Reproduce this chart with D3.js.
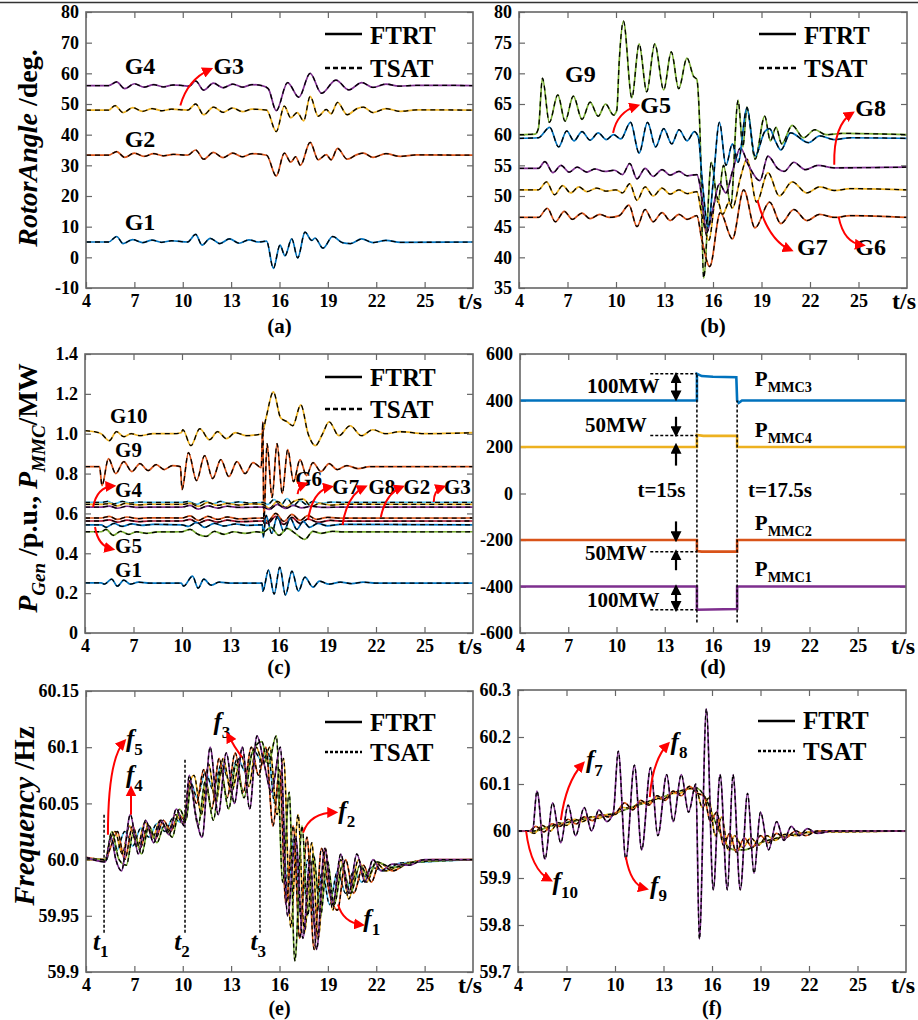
<!DOCTYPE html>
<html>
<head>
<meta charset="utf-8">
<title>FTRT vs TSAT</title>
<script src="https://cdnjs.cloudflare.com/ajax/libs/d3/7.8.5/d3.min.js"></script>
<style>
body { margin: 0; background: #fff; }
svg text { font-family: "Liberation Serif", "Times New Roman", serif; font-weight: bold; fill: #000; }
</style>
</head>
<body>
<script>
// ---- data: [time (s), value] ----
var xTicks = [4, 7, 10, 13, 16, 19, 22, 25];

// (a) rotor angle, deg
var aTicks = [-10, 0, 10, 20, 30, 40, 50, 60, 70, 80];
var a_G4 = [[4,56],[5.4,56],[5.9,57.2],[6.4,55],[7,56.6],[7.6,55.5],[8.2,56.3],[8.8,55.6],[9.4,56.2],[10,56],[10.4,55.8],[10.8,57.5],[11.3,54.5],[11.9,56.8],[12.5,55.3],[13.1,56.5],[13.7,55.5],[14.3,56.3],[14.9,56],[15.3,55],[15.8,47.8],[16.5,57],[17.2,52.2],[17.9,60],[18.6,53.5],[19.5,57.8],[20.3,54.6],[21.1,57],[21.8,55.4],[22.6,56.5],[23.4,55.8],[24.5,56.1],[28,56]];
var a_G3 = [[4,48],[5.4,48],[5.8,49.5],[6.3,47.2],[6.9,48.8],[7.5,47.6],[8.1,48.5],[8.7,47.8],[9.3,48.3],[10.3,48],[10.8,50],[11.3,46.5],[11.9,49],[12.5,47.3],[13.1,48.7],[13.7,47.5],[14.3,48.3],[15.2,48],[15.8,41],[16.3,49.3],[16.7,45.5],[17.1,47.2],[17.5,44.5],[17.9,52.5],[18.4,46],[18.9,48.2],[19.2,46.8],[19.6,50.5],[20.2,46.5],[20.8,48.5],[21.2,49],[21.8,47.2],[22.6,48.5],[23.5,47.6],[24.5,48.1],[28,48]];
var a_G2 = [[4,33.3],[5.4,33.3],[5.9,34.5],[6.4,32.6],[7,34],[7.6,32.9],[8.2,33.8],[8.8,33.1],[9.4,33.6],[10.3,33.3],[10.8,35],[11.3,32],[11.9,34.2],[12.5,32.5],[13.1,34],[13.7,32.8],[14.3,33.8],[15.2,33.3],[15.8,26.5],[16.3,34],[16.7,31],[17,32.8],[17.3,30],[17.9,37.5],[18.4,31.8],[18.9,33.5],[19.2,31.8],[19.6,35.5],[20.2,32],[20.8,33.5],[21.2,34],[21.8,32.6],[22.6,33.8],[23.5,32.9],[24.5,33.4],[28,33.3]];
var a_G1 = [[4,5],[5.4,5],[5.9,6.8],[6.3,4.5],[6.9,5.8],[7.5,4.8],[8.1,5.6],[8.7,4.9],[9.3,5.4],[10.3,5],[10.8,7.5],[11.2,4],[11.7,6.2],[12.3,4.5],[12.9,6],[13.5,4.6],[14.1,5.7],[14.7,5],[15.2,5.3],[15.62,-3.6],[16.03,4],[16.34,0.5],[16.76,6],[17.13,-0.2],[17.58,8.2],[18,5.5],[18.2,6.3],[18.7,3],[19.3,6.8],[19.9,4.8],[20.4,4.5],[21.1,6],[21.8,4.8],[22.6,5.5],[23.5,4.9],[28,5]];

// (b) rotor angle, deg
var bTicks = [35, 40, 45, 50, 55, 60, 65, 70, 75, 80];
var b_G9 = [[4,60],[5,60.1],[5.2,61],[5.45,69.2],[5.88,62],[6.4,66.5],[6.85,62.2],[7.36,66.3],[7.9,62.5],[8.4,65.3],[8.9,63],[9.35,65],[9.85,63.2],[10.05,64],[10.2,72],[10.46,78.5],[10.98,66],[11.43,74.8],[11.9,67],[12.4,74.8],[12.95,67.3],[13.42,73.5],[13.88,67.5],[14.39,72.5],[14.8,69.5],[15,69],[15.2,60],[15.42,36.6],[15.9,55.5],[16.3,49],[16.65,55],[17.1,48.5],[17.55,65.6],[17.85,58],[18.1,64.5],[18.6,56],[19.2,63],[19.55,59],[19.9,61.2],[20.25,58.5],[20.9,61.5],[21.6,59.5],[22.3,60.8],[23,60],[24,60.2],[28,60]];
var b_G5 = [[4,59.4],[5.2,59.5],[5.9,61.2],[6.45,58],[6.95,60.6],[7.4,59],[7.9,60.5],[8.4,59.1],[8.9,60.3],[9.4,59.2],[9.85,60],[10.3,59.3],[10.9,62],[11.43,57],[11.95,62],[12.45,58],[12.95,61],[13.45,58.5],[13.9,60.8],[14.4,59],[14.85,60.5],[15.1,59.5],[15.35,52],[15.7,45],[16,52],[16.4,62],[16.8,55],[17.2,58.5],[17.55,55.5],[18.1,64.3],[18.6,56.5],[19.2,60.5],[19.5,61],[19.85,59],[20.2,57.5],[20.8,60.3],[21.9,58.7],[22.6,59.8],[23.5,59.2],[24.5,59.5],[28,59.4]];
var b_G8 = [[4,54.5],[5.2,54.5],[5.6,55.6],[6.1,53.8],[6.6,55],[7.1,53.9],[7.6,54.7],[8.2,53.9],[8.7,54.4],[9.3,54],[9.9,54.2],[10.4,53.5],[10.85,55.3],[11.3,52.8],[11.8,54.5],[12.3,53.2],[12.85,54.3],[13.35,53.4],[13.9,54],[14.4,53.3],[15,53.5],[15.3,50],[15.6,44],[16,48],[16.4,52],[16.8,50.5],[17.2,54],[17.7,57.8],[18.2,55],[18.9,52.5],[19.4,56.5],[20,54.5],[20.4,54],[21,55.5],[21.7,54.3],[22.5,55],[23.5,54.6],[28,54.7]];
var b_G7 = [[4,51],[5.2,51],[5.7,52.3],[6.2,50.2],[6.7,51.7],[7.2,50.5],[7.7,51.5],[8.2,50.7],[8.8,51.3],[9.4,50.8],[10,51],[10.4,50.5],[10.85,52],[11.3,49.3],[11.8,51.5],[12.3,50],[12.85,51.3],[13.35,50.3],[13.9,51],[14.4,50.4],[15,50.7],[15.3,47],[15.75,42.8],[16.2,50],[16.6,47],[17,49],[17.2,48],[17.7,53],[18.1,56],[18.7,49],[19.4,53.8],[20.1,50],[20.9,52.3],[21.8,50.5],[22.6,51.5],[23.5,50.9],[24.5,51.2],[28,51]];
var b_G6 = [[4,46.5],[5.2,46.5],[5.75,48],[6.25,45.8],[6.8,47.5],[7.3,46.2],[7.9,47.2],[8.4,46.3],[9,47],[9.6,46.5],[10.2,46.8],[10.8,48.5],[11.3,45],[11.8,47.8],[12.3,45.8],[12.85,47.3],[13.35,46],[13.9,47],[14.4,46.2],[15,46.8],[15.3,43],[15.8,38.5],[16.45,47.3],[17.2,43],[17.9,51],[18.6,44.8],[19.5,49],[20.2,45.5],[21,47.8],[21.8,46],[22.6,47],[23.5,46.5],[24.5,46.8],[28,46.5]];

// (c) generator power, p.u.
var cTicks = [0, 0.2, 0.4, 0.6, 0.8, 1.0, 1.2, 1.4];
var cTickLabels = ['0', '0.2', '0.4', '0.6', '0.8', '1.0', '1.2', '1.4'];
var c_G10 = [[4,1.015],[4.6,1.01],[5,1],[5.5,0.965],[5.95,1.01],[6.4,0.985],[6.85,1],[7.4,0.99],[8.2,1],[9.5,1],[9.95,1.005],[10.05,1.02],[10.55,0.94],[11.1,1.025],[11.7,0.97],[12.2,1.01],[12.75,0.975],[13.3,1.005],[14,0.99],[14.95,1],[15.2,1.08],[15.65,1.21],[16.1,1.08],[16.5,1.06],[16.85,1.04],[17.35,1.145],[17.8,1],[18.25,0.94],[18.7,1],[19.1,1.06],[19.7,0.99],[20.4,1.04],[21.1,0.99],[21.8,1.02],[22.6,1],[23.5,1.01],[25,1],[28,1.005]];
var c_G9 = [[4,0.835],[4.9,0.835],[5.05,0.74],[5.45,0.875],[5.9,0.8],[6.4,0.86],[6.9,0.81],[7.4,0.85],[7.9,0.815],[8.4,0.845],[8.9,0.82],[9.4,0.84],[9.9,0.835],[10,0.72],[10.4,0.905],[10.9,0.765],[11.4,0.89],[11.9,0.775],[12.4,0.87],[12.9,0.785],[13.4,0.86],[13.9,0.8],[14.4,0.855],[14.9,0.83],[15,1.06],[15.06,0.55],[15.26,0.95],[15.57,0.68],[15.88,0.95],[16.2,0.7],[16.54,0.92],[16.9,0.76],[17.3,0.87],[17.7,0.79],[18.1,0.855],[18.6,0.81],[19.1,0.85],[19.6,0.82],[20.2,0.84],[20.9,0.825],[21.6,0.835],[28,0.835]];
var c_G4 = [[4,0.655],[5,0.655],[5.4,0.66],[5.8,0.648],[6.3,0.66],[6.8,0.652],[7.3,0.657],[8,0.655],[10,0.655],[10.4,0.66],[10.9,0.645],[11.4,0.662],[11.9,0.648],[12.4,0.66],[12.9,0.65],[13.5,0.658],[14.2,0.652],[15,0.655],[15.3,0.645],[15.7,0.67],[16.1,0.64],[16.5,0.675],[16.9,0.64],[17.3,0.665],[17.7,0.645],[18.1,0.66],[18.6,0.65],[19.2,0.657],[20,0.655],[28,0.655]];
var c_G5 = [[4,0.645],[5,0.645],[5.5,0.65],[6,0.638],[6.5,0.65],[7.2,0.643],[8,0.646],[10,0.645],[10.5,0.652],[11,0.635],[11.6,0.655],[12.2,0.64],[12.8,0.65],[13.5,0.642],[14.3,0.648],[15,0.645],[15.4,0.625],[15.9,0.66],[16.4,0.63],[16.9,0.66],[17.5,0.672],[18,0.635],[18.5,0.65],[19.2,0.642],[20,0.646],[28,0.645]];
var c_G3 = [[4,0.632],[5,0.632],[5.5,0.637],[6,0.626],[6.6,0.636],[7.3,0.63],[8,0.632],[10,0.632],[10.5,0.64],[11,0.622],[11.6,0.638],[12.2,0.627],[12.8,0.636],[13.5,0.63],[15,0.632],[15.4,0.62],[15.9,0.645],[16.4,0.625],[16.9,0.64],[17.4,0.628],[18,0.636],[18.8,0.63],[20,0.632],[28,0.632]];
var c_G2 = [[4,0.577],[5,0.577],[5.5,0.585],[6,0.57],[6.6,0.582],[7.3,0.574],[8,0.578],[10,0.577],[10.5,0.588],[11,0.565],[11.6,0.585],[12.2,0.57],[12.8,0.582],[13.5,0.573],[15,0.577],[15.3,0.56],[15.8,0.6],[16.3,0.56],[16.8,0.595],[17.3,0.565],[17.8,0.59],[18.3,0.57],[19,0.58],[20,0.576],[28,0.577]];
var c_G8 = [[4,0.562],[5,0.562],[5.5,0.568],[6,0.556],[6.6,0.566],[7.3,0.559],[8,0.562],[10,0.562],[10.5,0.57],[11,0.552],[11.6,0.568],[12.2,0.556],[12.8,0.566],[13.5,0.559],[15,0.562],[15.3,0.55],[15.8,0.585],[16.3,0.545],[16.8,0.58],[17.3,0.55],[17.8,0.572],[18.4,0.556],[19.2,0.565],[20,0.561],[28,0.562]];
var c_G7 = [[4,0.543],[5,0.543],[5.3,0.53],[5.8,0.55],[6.3,0.535],[6.9,0.548],[7.5,0.54],[8.2,0.545],[10,0.543],[10.4,0.535],[10.9,0.555],[11.4,0.53],[12,0.55],[12.6,0.537],[13.3,0.547],[14,0.54],[14.98,0.543],[15.02,0.48],[15.2,0.59],[15.55,0.5],[15.9,0.585],[16.3,0.51],[16.7,0.575],[17.1,0.52],[17.5,0.56],[17.9,0.53],[18.4,0.55],[19,0.538],[19.8,0.545],[28,0.543]];
var c_G6 = [[4,0.508],[5,0.508],[5.3,0.52],[5.75,0.49],[6.2,0.51],[6.7,0.495],[7.2,0.508],[7.8,0.5],[8.5,0.507],[10,0.508],[10.5,0.52],[11,0.495],[11.5,0.485],[12,0.51],[12.6,0.495],[13.2,0.508],[13.9,0.5],[14.6,0.508],[15,0.505],[15.5,0.53],[16,0.49],[16.5,0.525],[17,0.5],[17.6,0.47],[18.1,0.51],[18.6,0.5],[19.3,0.51],[20,0.507],[28,0.508]];
var c_G1 = [[4,0.252],[5,0.252],[5.2,0.245],[5.65,0.27],[6,0.235],[6.4,0.265],[6.8,0.245],[7.3,0.255],[8,0.25],[9.95,0.25],[10.1,0.235],[10.65,0.285],[11,0.225],[11.35,0.27],[11.8,0.24],[12.3,0.255],[13,0.25],[14.95,0.25],[15,0.21],[15.35,0.316],[15.7,0.195],[16.05,0.33],[16.4,0.19],[16.8,0.31],[17.2,0.21],[17.6,0.28],[18.1,0.23],[18.5,0.26],[19.1,0.245],[19.8,0.255],[20.5,0.248],[21.2,0.255],[22,0.25],[28,0.25]];

// (d) MMC power, MW
var dTicks = [-600, -400, -200, 0, 200, 400, 600];
var d_P3 = [[4,400],[15,400],[15,515],[15.3,505],[16,502],[17.45,500],[17.5,400],[17.6,390],[17.8,400],[28,400]];
var d_P4 = [[4,200],[15,200],[15,252],[15.4,248],[17.5,248],[17.5,200],[28,200]];
var d_P2 = [[4,-200],[15,-200],[15,-248],[15.3,-250],[17.5,-250],[17.5,-200],[28,-200]];
var d_P1 = [[4,-400],[15,-400],[15,-500],[17.5,-497],[17.5,-400],[28,-400]];

// (e) frequency, Hz
var eTicks = [59.9, 59.95, 60, 60.05, 60.1, 60.15];
var eTickLabels = ['59.9', '59.95', '60.0', '60.05', '60.1', '60.15'];
var e_f5 = [[4,60.001],[5.1,60],[5.3,60],[5.5,60.02],[5.9,60.008],[6.4,60.025],[6.9,60.012],[7.4,60.028],[7.9,60.02],[8.4,60.032],[8.9,60.025],[9.4,60.037],[9.9,60.033],[10.2,60.038],[10.45,60.07],[10.9,60.055],[11.4,60.078],[11.9,60.062],[12.4,60.085],[12.9,60.07],[13.4,60.09],[13.9,60.078],[14.4,60.097],[14.9,60.088],[15.3,60.095],[15.7,60.05],[16.1,60.07],[16.5,59.97],[16.9,60.02],[17.3,59.95],[17.75,60],[18.2,59.94],[18.65,59.99],[19.1,59.96],[19.6,59.99],[20.1,59.97],[20.6,59.99],[21.1,59.98],[21.7,59.993],[22.5,59.99],[23.5,59.997],[25,59.998],[28,60]];
var e_f3 = [[4,60],[5.2,60],[5.45,60.015],[5.8,60.025],[6.25,60.005],[6.7,60.03],[7.2,60.012],[7.65,60.033],[8.15,60.02],[8.6,60.035],[9.1,60.025],[9.55,60.04],[10.05,60.032],[10.3,60.06],[10.7,60.075],[11.15,60.04],[11.6,60.085],[12.05,60.05],[12.5,60.09],[13,60.06],[13.65,60.092],[14.1,60.065],[14.55,60.1],[15,60.085],[15.4,60.1],[15.85,60.04],[16.25,60.09],[16.7,59.94],[17.15,60.04],[17.55,59.935],[18,60.015],[18.4,59.93],[18.85,60.01],[19.3,59.955],[19.8,60],[20.3,59.965],[20.9,60],[21.4,59.98],[22,59.997],[22.6,59.99],[23.5,59.995],[25,59.999],[28,60]];
var e_f1 = [[4,60.002],[5.2,60],[5.5,60.01],[5.95,60.025],[6.4,60],[6.9,60.03],[7.35,60.01],[7.85,60.03],[8.3,60.018],[8.8,60.035],[9.25,60.025],[9.75,60.04],[10.15,60.035],[10.4,60.07],[10.85,60.05],[11.3,60.08],[11.8,60.045],[12.25,60.09],[12.75,60.055],[13.25,60.095],[13.75,60.06],[14.25,60.1],[14.7,60.075],[15.15,60.1],[15.6,60.03],[16,60.08],[16.4,59.96],[16.85,60.03],[17.25,59.93],[17.7,60.02],[18.15,59.92],[18.6,60.01],[19.1,59.97],[19.6,59.955],[20.1,60],[20.6,59.97],[21.2,59.995],[21.7,59.98],[22.2,59.997],[23,59.99],[24,59.997],[25.5,60],[28,60]];
var e_f2 = [[4,60.001],[5.2,60],[5.6,60.025],[6.05,60],[6.5,59.995],[6.95,60.025],[7.45,60.005],[7.9,60.03],[8.4,60.015],[8.85,60.03],[9.35,60.02],[9.8,60.045],[10.2,60.035],[10.5,60.065],[10.95,60.03],[11.4,60.07],[11.9,60.035],[12.35,60.08],[12.85,60.045],[13.3,60.085],[13.8,60.055],[14.3,60.095],[14.9,60.105],[15.3,60.085],[15.8,60.11],[16.2,59.98],[16.6,60.06],[16.95,59.91],[17.4,60.03],[17.75,59.95],[18.1,60.005],[18.55,59.95],[18.95,60],[19.4,59.96],[19.9,59.995],[20.4,59.97],[21,59.995],[21.5,59.985],[22,59.998],[23,59.993],[24.5,59.998],[28,60]];
var e_f4 = [[4,60.002],[5.2,59.998],[5.55,60.02],[5.85,60],[6.2,59.99],[6.75,60.04],[7.25,60.005],[7.7,60.035],[8.2,60.015],[8.65,60.035],[9.15,60.022],[9.6,60.045],[10.1,60.03],[10.4,60.075],[10.8,60.04],[11.2,60.02],[11.7,60.1],[12.2,60.04],[12.7,60.095],[13.2,60.05],[13.7,60.1],[14.15,60.045],[14.6,60.11],[15.05,60.085],[15.5,60.06],[16.05,60.1],[16.5,59.95],[17,60.02],[17.45,59.93],[17.9,60],[18.3,59.92],[18.8,60.01],[19.3,59.96],[19.8,60.005],[20.3,59.97],[20.8,60.005],[21.3,59.98],[21.8,60],[22.3,59.99],[23,59.996],[24,59.995],[25,60],[28,60]];

// (f) frequency, Hz
var fTicks = [59.7, 59.8, 59.9, 60, 60.1, 60.2, 60.3];
var fTickLabels = ['59.7', '59.8', '59.9', '60', '60.1', '60.2', '60.3'];
var f_f10 = [[4,60],[4.5,60],[5,60],[6,60.01],[7,60.018],[8,60.025],[9,60.032],[10,60.038],[11,60.05],[12,60.062],[13,60.073],[14,60.085],[15,60.092],[15.6,60.07],[16.2,60.02],[16.8,59.975],[17.4,59.96],[18,59.96],[19,59.975],[20,59.985],[21,59.992],[22,59.997],[23,60],[28,60]];
var f_f7 = [[4,60],[4.6,60],[5,59.995],[5.5,60.012],[6,60],[6.5,60.018],[7,60.012],[7.5,60.025],[8,60.02],[8.5,60.03],[9,60.027],[9.5,60.035],[10,60.035],[10.5,60.05],[11,60.048],[11.5,60.06],[12,60.058],[12.5,60.07],[13,60.068],[13.5,60.08],[14,60.08],[14.5,60.09],[15,60.09],[15.4,60.05],[15.8,60.07],[16.2,59.99],[16.6,60.03],[17,59.96],[17.4,59.99],[17.9,59.965],[18.4,59.985],[18.9,59.97],[19.4,59.99],[19.9,59.98],[20.5,59.993],[21.2,59.99],[22,59.998],[23,59.998],[28,60]];
var f_f8 = [[4,60],[4.7,60],[5.1,60.01],[5.6,59.998],[6.1,60.015],[6.6,60.01],[7.1,60.025],[7.6,60.015],[8.1,60.03],[8.6,60.022],[9.1,60.035],[9.6,60.03],[10.1,60.04],[10.6,60.06],[11.1,60.045],[11.6,60.065],[12.1,60.055],[12.6,60.075],[13.1,60.065],[13.6,60.085],[14.1,60.075],[14.6,60.095],[15.1,60.08],[15.5,60.075],[15.9,60.02],[16.3,60.04],[16.7,59.97],[17.1,59.995],[17.5,59.955],[18,59.985],[18.5,59.965],[19,59.99],[19.5,59.975],[20,59.995],[20.5,59.985],[21.2,60],[21.8,59.99],[22.5,60],[28,60]];
var f_f9 = [[4,60],[4.9,60],[5.17,60.085],[5.67,59.94],[6.14,60.06],[6.65,59.975],[7.1,60.055],[7.56,59.99],[8.1,60.05],[8.55,60],[9,60.045],[9.5,60.02],[9.9,60.04],[10.2,60.17],[10.67,59.94],[11.2,60.14],[11.65,59.96],[12.2,60.135],[12.65,59.99],[13.2,60.12],[13.6,60.02],[14.1,60.12],[14.55,60.04],[15,60.1],[15.22,59.77],[15.65,60.26],[16.08,59.875],[16.5,60.12],[16.95,59.875],[17.3,60.12],[17.75,59.875],[18.2,60.08],[18.6,59.91],[19,60.04],[19.5,59.96],[20,60.02],[20.45,59.98],[20.9,60.01],[21.4,59.99],[21.9,60.005],[22.5,59.995],[23.5,60],[28,60]];

// ---- drawing ----
var C = { blue: '#0072BD', orange: '#D95319', yellow: '#EDB120', purple: '#7E2F8E',
          green: '#77AC30', cyan: '#4DBEEE', dred: '#A2142F' };

var svg = d3.select('body').append('svg').attr('width', 918).attr('height', 1020);

var defs = svg.append('defs');
[['arrRed', '#f00'], ['arrBlk', '#000']].forEach(function (m) {
  defs.append('marker').attr('id', m[0]).attr('viewBox', '0 0 10 10')
    .attr('refX', 7).attr('refY', 5).attr('markerWidth', 11).attr('markerHeight', 11)
    .attr('markerUnits', 'userSpaceOnUse').attr('orient', 'auto-start-reverse')
    .append('path').attr('d', 'M0,0L10,5L0,10z').attr('fill', m[1]);
});

svg.append('line').attr('x1', 0).attr('x2', 918).attr('y1', 2.5).attr('y2', 2.5)
  .attr('stroke', '#333').attr('stroke-width', 1.5);

// text with italic parts / subscripts
function rich(sel, parts, size) {
  var prev = 0;
  parts.forEach(function (p) {
    var off = p.sub ? size * 0.3 : 0;
    sel.append('tspan').text(p.t)
      .attr('font-size', p.sub ? size * 0.68 : size)
      .attr('font-style', p.it ? 'italic' : 'normal')
      .attr('dy', off - prev);
    prev = off;
  });
  return sel;
}

function styleAxis(sel) {
  sel.select('.domain').remove();
  sel.attr('font-family', null).attr('font-size', 18);
  sel.selectAll('.tick line').attr('stroke', '#666').attr('stroke-width', 1.2);
}

function makePanel(p) {
  var x = d3.scaleLinear().domain([4, 28]).range([p.l, p.r]);
  var y = d3.scaleLinear().domain(p.yd).range([p.b, p.t]);
  var g = svg.append('g');
  var fmt = function (d) { return p.yl ? p.yl[p.yt.indexOf(d)] : d; };
  g.append('g').attr('transform', 'translate(0,' + p.b + ')')
    .call(d3.axisBottom(x).tickValues(xTicks).tickSizeInner(-6).tickSizeOuter(0).tickPadding(6)).call(styleAxis);
  g.append('g').attr('transform', 'translate(0,' + p.t + ')')
    .call(d3.axisTop(x).tickValues(xTicks).tickSizeInner(-6).tickSizeOuter(0).tickFormat('')).call(styleAxis);
  g.append('g').attr('transform', 'translate(' + p.l + ',0)')
    .call(d3.axisLeft(y).tickValues(p.yt).tickSizeInner(-6).tickSizeOuter(0).tickPadding(7).tickFormat(fmt)).call(styleAxis);
  g.append('g').attr('transform', 'translate(' + p.r + ',0)')
    .call(d3.axisRight(y).tickValues(p.yt).tickSizeInner(-6).tickSizeOuter(0).tickFormat('')).call(styleAxis);
  var P = { x: x, y: y, g: g, l: p.l, r: p.r, t: p.t, b: p.b };
  P.lines = g.append('g');
  P.ann = g.append('g');
  g.append('rect').attr('x', p.l).attr('y', p.t).attr('width', p.r - p.l).attr('height', p.b - p.t)
    .attr('fill', 'none').attr('stroke', '#666').attr('stroke-width', 1.6);
  g.append('text').attr('x', p.r - 15).attr('y', p.b + 21).attr('font-size', 24).text('t/s');
  g.append('text').attr('x', (p.l + p.r) / 2).attr('y', p.cap).attr('text-anchor', 'middle')
    .attr('font-size', p.capSize || 21).text(p.name);
  return P;
}

function series(P, data, color, dash, curve) {
  var line = d3.line().x(function (d) { return P.x(d[0]); }).y(function (d) { return P.y(d[1]); })
    .curve(curve || d3.curveMonotoneX);
  P.lines.append('path').attr('d', line(data)).attr('fill', 'none')
    .attr('stroke', color).attr('stroke-width', dash ? 1.7 : 2.6);
  if (dash) {
    P.lines.append('path').attr('d', line(data)).attr('fill', 'none')
      .attr('stroke', '#000').attr('stroke-width', 1.3).attr('stroke-dasharray', dash);
  }
}

function label(P, parts, t, v, size) {
  rich(P.ann.append('text').attr('x', P.x(t)).attr('y', P.y(v)), parts, size);
}

function arrow(P, pts, color, both) {
  var s = pts.map(function (d) { return [P.x(d[0]), P.y(d[1])]; });
  var d = s.length === 3 ? 'M' + s[0] + 'Q' + s[1] + ' ' + s[2] : 'M' + s[0] + 'L' + s[1];
  var path = P.ann.append('path').attr('d', d).attr('fill', 'none')
    .attr('stroke', color === 'red' ? '#f00' : '#000').attr('stroke-width', color === 'red' ? 2 : 2.2)
    .attr('marker-end', 'url(#' + (color === 'red' ? 'arrRed' : 'arrBlk') + ')');
  if (both) path.attr('marker-start', 'url(#arrBlk)');
}

function dline(P, a, b, dash) {
  P.ann.append('line').attr('x1', P.x(a[0])).attr('y1', P.y(a[1])).attr('x2', P.x(b[0])).attr('y2', P.y(b[1]))
    .attr('stroke', '#000').attr('stroke-width', 1.5).attr('stroke-dasharray', dash || '3,2');
}

function legend(P, o) {
  var x1 = P.r - 148, x2 = P.r - 111, tx = P.r - 103;
  P.ann.append('line').attr('x1', x1).attr('x2', x2).attr('y1', P.t + o[0]).attr('y2', P.t + o[0])
    .attr('stroke', '#000').attr('stroke-width', 2.6);
  P.ann.append('text').attr('x', tx).attr('y', P.t + o[1]).attr('font-size', 25).text('FTRT');
  P.ann.append('line').attr('x1', x1).attr('x2', x2).attr('y1', P.t + o[2]).attr('y2', P.t + o[2])
    .attr('stroke', '#000').attr('stroke-width', 2.6).attr('stroke-dasharray', o[4]);
  P.ann.append('text').attr('x', tx).attr('y', P.t + o[3]).attr('font-size', 25).text('TSAT');
}

function yTitle(x, y, parts, size) {
  rich(svg.append('text').attr('transform', 'translate(' + x + ',' + y + ') rotate(-90)')
    .attr('text-anchor', 'middle'), parts, size);
}

var DASH = '5,4', DOT = '4,3';

// (a)
var A = makePanel({ l: 86, r: 473, t: 12, b: 288, yd: [-10, 80], yt: aTicks, cap: 333, name: '(a)' });
series(A, a_G4, C.purple, DASH);
series(A, a_G3, C.yellow, DASH);
series(A, a_G2, C.orange, DASH);
series(A, a_G1, C.blue, DASH);
legend(A, [22, 32, 56, 65, '5,3']);
label(A, [{ t: 'G4' }], 6.4, 59.7, 24);
label(A, [{ t: 'G3' }], 11.9, 59.7, 24);
label(A, [{ t: 'G2' }], 6.4, 36.1, 24);
label(A, [{ t: 'G1' }], 6.4, 9, 24);
arrow(A, [[9.85, 49.5], [10.3, 58], [11.7, 61.3]], 'red');
yTitle(37, 148, [{ t: 'RotorAngle', it: true }, { t: ' /deg.' }], 28);

// (b)
var B = makePanel({ l: 519, r: 907, t: 12, b: 288, yd: [35, 80], yt: bTicks, cap: 333, name: '(b)' });
series(B, b_G9, C.green, DASH);
series(B, b_G6, C.orange, DASH);
series(B, b_G7, C.yellow, DASH);
series(B, b_G8, C.purple, DASH);
series(B, b_G5, C.blue, DASH);
legend(B, [22, 32, 56, 65, '5,3']);
label(B, [{ t: 'G9' }], 6.85, 68.6, 24);
label(B, [{ t: 'G5' }], 11.5, 63.6, 24);
label(B, [{ t: 'G8' }], 24.8, 63, 24);
label(B, [{ t: 'G7' }], 21.2, 40.4, 24);
label(B, [{ t: 'G6' }], 24.8, 40.4, 24);
arrow(B, [[9.82, 60.3], [10.07, 63.7], [11.3, 64.7]], 'red');
arrow(B, [[23.5, 55.1], [23.45, 61.6], [24.6, 63.5]], 'red');
arrow(B, [[18.75, 49.3], [19.4, 42.8], [20.8, 41.2]], 'red');
arrow(B, [[23.77, 46.6], [24.1, 42.3], [25.25, 42]], 'red');

// (c)
var Cp = makePanel({ l: 85, r: 473, t: 354, b: 633, yd: [0, 1.4], yt: cTicks, yl: cTickLabels, cap: 674, name: '(c)' });
series(Cp, c_G10, C.yellow, DASH);
series(Cp, c_G9, C.orange, DASH);
series(Cp, c_G4, C.cyan, DASH);
series(Cp, c_G5, C.yellow, DASH);
series(Cp, c_G3, C.purple, DASH);
series(Cp, c_G2, C.orange, DASH);
series(Cp, c_G8, C.dred, DASH);
series(Cp, c_G7, C.blue, DASH);
series(Cp, c_G6, C.green, DASH);
series(Cp, c_G1, C.blue, DASH);
legend(Cp, [23, 32, 55, 64, '5,3']);
label(Cp, [{ t: 'G10' }], 5.55, 1.052, 21);
label(Cp, [{ t: 'G9' }], 5.86, 0.885, 21);
label(Cp, [{ t: 'G4' }], 5.86, 0.684, 21);
label(Cp, [{ t: 'G5' }], 5.86, 0.4, 21);
label(Cp, [{ t: 'G1' }], 5.86, 0.283, 21);
label(Cp, [{ t: 'G6' }], 17.0, 0.7375, 21);
label(Cp, [{ t: 'G7' }], 19.3, 0.696, 21);
label(Cp, [{ t: 'G8' }], 21.53, 0.696, 21);
label(Cp, [{ t: 'G2' }], 23.7, 0.696, 21);
label(Cp, [{ t: 'G3' }], 26.2, 0.696, 21);
arrow(Cp, [[4.5, 0.632], [4.74, 0.733], [5.74, 0.738]], 'red');
arrow(Cp, [[4.62, 0.532], [4.8, 0.437], [5.67, 0.421]], 'red');
arrow(Cp, [[17.15, 0.697], [17.2, 0.735], [17.64, 0.748]], 'red');
arrow(Cp, [[17.8, 0.567], [18.07, 0.717], [19.2, 0.733]], 'red');
arrow(Cp, [[19.93, 0.542], [20.2, 0.692], [21.3, 0.733]], 'red');
arrow(Cp, [[22.3, 0.582], [22.6, 0.7], [23.6, 0.733]], 'red');
arrow(Cp, [[25.57, 0.657], [25.57, 0.717], [26.15, 0.733]], 'red');
yTitle(37, 488, [{ t: 'P', it: true }, { t: 'Gen', it: true, sub: true }, { t: ' /p.u., ' },
  { t: 'P', it: true }, { t: 'MMC', it: true, sub: true }, { t: '/MW' }], 28);

// (d)
var D = makePanel({ l: 520, r: 906, t: 354, b: 633, yd: [-600, 600], yt: dTicks, cap: 674, name: '(d)' });
series(D, d_P3, C.blue, null, d3.curveLinear);
series(D, d_P4, C.yellow, null, d3.curveLinear);
series(D, d_P2, C.orange, null, d3.curveLinear);
series(D, d_P1, C.purple, null, d3.curveLinear);
dline(D, [15, -555], [15, 515]);
dline(D, [17.5, -555], [17.5, 400]);
[515, 250, -250, -500].forEach(function (v) { dline(D, [12.1, v], [15, v]); });
arrow(D, [[13.7, 410], [13.7, 508]], 'black', true);
arrow(D, [[13.7, 330], [13.7, 256]], 'black');
arrow(D, [[13.7, 120], [13.7, 204]], 'black');
arrow(D, [[13.7, -120], [13.7, -196]], 'black');
arrow(D, [[13.7, -330], [13.7, -254]], 'black');
arrow(D, [[13.7, -404], [13.7, -496]], 'black', true);
label(D, [{ t: '100MW' }], 8.17, 432, 21);
label(D, [{ t: '50MW' }], 8.04, 266, 21);
label(D, [{ t: '50MW' }], 8.04, -286, 21);
label(D, [{ t: '100MW' }], 8.17, -487, 21);
label(D, [{ t: 't=15s' }], 11.3, -14, 21);
label(D, [{ t: 't=17.5s' }], 18.18, -14, 21);
label(D, [{ t: 'P' }, { t: 'MMC3', sub: true }], 18.6, 462, 21);
label(D, [{ t: 'P' }, { t: 'MMC4', sub: true }], 18.6, 244, 21);
label(D, [{ t: 'P' }, { t: 'MMC2', sub: true }], 18.6, -157, 21);
label(D, [{ t: 'P' }, { t: 'MMC1', sub: true }], 18.6, -355, 21);

// (e)
var E = makePanel({ l: 86, r: 473, t: 691, b: 972, yd: [59.9, 60.15], yt: eTicks, yl: eTickLabels, cap: 1015, capSize: 20, name: '(e)' });
series(E, e_f5, C.cyan, DOT);
series(E, e_f3, C.yellow, DOT);
series(E, e_f1, C.orange, DOT);
series(E, e_f2, C.green, DOT);
series(E, e_f4, C.purple, DOT);
legend(E, [31, 40, 61, 70, '3,2']);
dline(E, [5.12, 59.935], [5.12, 60.04]);
dline(E, [10.14, 59.935], [10.14, 60.089]);
dline(E, [14.79, 59.935], [14.79, 60.09]);
label(E, [{ t: 't', it: true }, { t: '1', sub: true }], 4.43, 59.92, 25);
label(E, [{ t: 't', it: true }, { t: '2', sub: true }], 9.48, 59.92, 25);
label(E, [{ t: 't', it: true }, { t: '3', sub: true }], 14.2, 59.92, 25);
label(E, [{ t: 'f', it: true }, { t: '5', sub: true }], 6.48, 60.1, 25);
label(E, [{ t: 'f', it: true }, { t: '4', sub: true }], 6.48, 60.068, 25);
label(E, [{ t: 'f', it: true }, { t: '3', sub: true }], 11.9, 60.115, 25);
label(E, [{ t: 'f', it: true }, { t: '2', sub: true }], 19.65, 60.036, 25);
label(E, [{ t: 'f', it: true }, { t: '1', sub: true }], 21.2, 59.94, 25);
arrow(E, [[5.36, 60.022], [5.36, 60.089], [6.36, 60.105]], 'red');
arrow(E, [[6.79, 60.04], [6.79, 60.063]], 'red');
arrow(E, [[13.67, 60.091], [13.2, 60.1], [12.8, 60.111]], 'red');
arrow(E, [[17.46, 60.024], [17.9, 60.042], [19.44, 60.042]], 'red');
arrow(E, [[19.63, 59.96], [19.94, 59.944], [21.1, 59.942]], 'red');
yTitle(34, 816, [{ t: 'Frequency', it: true }, { t: ' /Hz' }], 29);

// (f)
var F = makePanel({ l: 518, r: 906, t: 690, b: 972, yd: [59.7, 60.3], yt: fTicks, yl: fTickLabels, cap: 1015, capSize: 20, name: '(f)' });
series(F, f_f10, C.green, DOT);
series(F, f_f7, C.yellow, DOT);
series(F, f_f8, C.orange, DOT);
series(F, f_f9, C.purple, DOT);
legend(F, [31, 39, 61, 70, '3,2']);
label(F, [{ t: 'f', it: true }, { t: '7', sub: true }], 8.2, 60.133, 25);
label(F, [{ t: 'f', it: true }, { t: '8', sub: true }], 13.44, 60.172, 25);
label(F, [{ t: 'f', it: true }, { t: '10', sub: true }], 6.14, 59.874, 25);
label(F, [{ t: 'f', it: true }, { t: '9', sub: true }], 12.17, 59.867, 25);
arrow(F, [[6.65, 60.023], [6.96, 60.104], [8.0, 60.143]], 'red');
arrow(F, [[12.15, 60.072], [12.33, 60.151], [13.26, 60.185]], 'red');
arrow(F, [[4.5, 60.0], [4.8, 59.917], [5.98, 59.896]], 'red');
arrow(F, [[10.67, 59.945], [10.97, 59.885], [11.9, 59.877]], 'red');
</script>
</body>
</html>
